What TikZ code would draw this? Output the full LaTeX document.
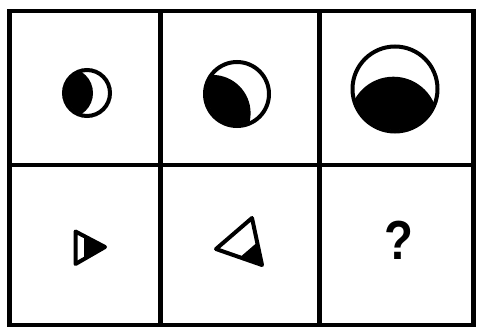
\documentclass[tikz,border=0pt]{standalone}
\usepackage{fontspec}
\newfontfamily\qfont{Liberation Sans}
\usetikzlibrary{calc}
\begin{document}
\begin{tikzpicture}[x=1pt,y=-1pt,
  gridline/.style={line width=4.5pt, line cap=rect},
  ring/.style={line width=4pt},
  tri/.style={line width=4pt, line join=round}]
\useasboundingbox (0,0) rectangle (478,329);
\fill[white] (0,0) rectangle (478,329);
% grid
\draw[gridline] (9.5,11) rectangle (473.5,325);
\draw[gridline] (9.5,165) -- (473.5,165);
\draw[gridline] (160.5,11) -- (160.5,325);
\draw[gridline] (319.5,11) -- (319.5,325);
% circle 1
\begin{scope}
  \clip (87,93) circle[radius=21.5pt];
  \fill (68,93) circle[radius=25pt];
\end{scope}
\draw[ring] (87,93) circle[radius=23pt];
% circle 2
\begin{scope}
  \clip (237,94) circle[radius=30.5pt];
  \fill (212.3,113.2) circle[radius=38.3pt];
\end{scope}
\draw[ring] (237,94) circle[radius=32pt];
% circle 3
\begin{scope}
  \clip (395,89) circle[radius=41pt];
  \fill (393.4,121) circle[radius=44.3pt];
\end{scope}
\draw[ring] (395,89) circle[radius=42.5pt];
% triangle 1
\coordinate (v1) at (105,247);
\coordinate (a1) at (75.5,231.5);
\coordinate (b1) at (75.5,264);
\fill (v1) -- ($(v1)!0.71!(a1)$) -- ($(v1)!0.71!(b1)$) -- cycle;
\draw[tri] (v1) -- (a1) -- (b1) -- cycle;
% triangle 2
\coordinate (v2) at (262,265);
\coordinate (a2) at (216,249);
\coordinate (b2) at (252,218);
\fill (v2) -- ($(v2)!0.48!(a2)$) -- ($(v2)!0.48!(b2)$) -- cycle;
\draw[tri] (v2) -- (a2) -- (b2) -- cycle;
% question mark
\node[anchor=base, inner sep=0pt, xscale=0.86] (q) at (399,259) {\qfont\bfseries\fontsize{55}{55}\selectfont ?};
\end{tikzpicture}
\end{document}
